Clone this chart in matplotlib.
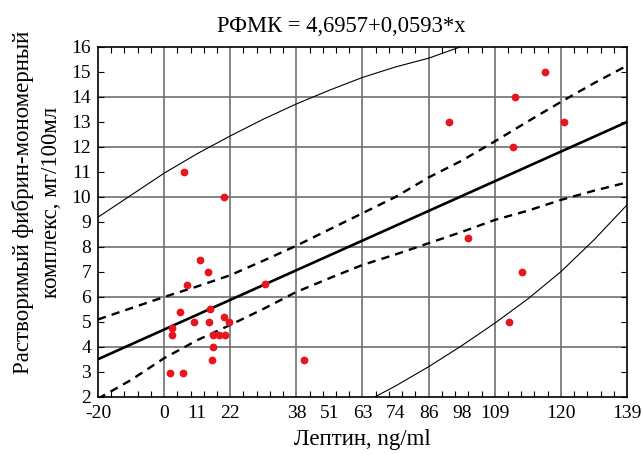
import matplotlib.pyplot as plt

plt.rcParams['font.family'] = ['Liberation Serif', 'DejaVu Serif']

# scatter points (x in axis units, y = РФМК)
pts_x = [6.0, 18.2, 10.9, 13.2, 6.9, 30.4, 4.8, 13.8, 2.5, 2.5, 9.1, 13.5,
         18.2, 19.7, 14.7, 16.5, 18.5, 14.7, 14.5, 1.9, 5.7, 42.2,
         115.3, 106.0, 86.2, 121.0, 105.6, 91.8, 108.1, 104.3]
pts_y = [11.0, 10.0, 7.47, 7.0, 6.48, 6.5, 5.39, 5.5, 4.77, 4.47, 5.0, 5.0,
         5.19, 5.0, 4.47, 4.47, 4.47, 4.0, 3.48, 2.97, 2.97, 3.48,
         15.0, 14.0, 13.0, 13.0, 12.0, 8.37, 7.0, 5.0]

# regression line РФМК = 4,6957+0,0593*x, end points
fit_x = [-20, 140]
fit_y = [3.51, 13.0]

# dashed confidence band
band_x = [-20, -10, 0, 10, 20, 30, 40, 50, 60, 70, 80, 90, 100, 110, 120, 130, 140]
band_hi = [5.1, 5.55, 6.0, 6.42, 6.87, 7.45, 8.05, 8.7, 9.35, 10.0, 10.78,
           11.45, 12.22, 13.02, 13.8, 14.55, 15.25]
band_lo = [1.93, 2.68, 3.55, 4.27, 4.88, 5.52, 6.2, 6.75, 7.28, 7.7, 8.15,
           8.6, 9.08, 9.45, 9.88, 10.25, 10.58]

# thin outer curves
out_hi_x = [-20, -10, 0, 10, 20, 30, 40, 50, 60, 70, 80, 90, 100]
out_hi_y = [9.19, 10.07, 10.95, 11.73, 12.44, 13.11, 13.72, 14.27, 14.78,
            15.2, 15.55, 16.02, 16.4]
out_lo_x = [60, 64.3, 70, 80, 90, 100, 110, 120, 130, 140]
out_lo_y = [1.7, 2.04, 2.44, 3.21, 4.05, 4.95, 5.92, 7.01, 8.28, 9.68]

# axis ticks
xtick_pos = [-20, 0, 10, 20, 40, 50, 60, 70, 80, 90, 100, 120, 140]
xtick_lab = ['-20', '0', '11', '22', '38', '51', '63', '74', '86', '98',
             '109', '120', '139']
xgrid = [0, 20, 40, 60, 80, 100, 120]
ygrid = [4, 6, 8, 10, 12, 14]

fig = plt.figure(figsize=(6.42, 4.54), dpi=100)
ax = fig.add_axes([0.1526, 0.1256, 0.824, 0.771])

for g in xgrid:
    ax.axvline(g, color='#707070', lw=1.2, zorder=1)
for g in ygrid:
    ax.axhline(g, color='#707070', lw=1.2, zorder=1)

ax.plot(out_hi_x, out_hi_y, color='black', lw=0.8, zorder=2)
ax.plot(out_lo_x, out_lo_y, color='black', lw=0.8, zorder=2)
ax.plot(band_x, band_hi, color='black', lw=1.7, ls=(0, (3.5, 2.6)), zorder=2)
ax.plot(band_x, band_lo, color='black', lw=1.7, ls=(0, (3.5, 2.6)), zorder=2)
ax.plot(fit_x, fit_y, color='black', lw=1.9, zorder=3)
ax.plot(pts_x, pts_y, 'o', color='#e8141e', ms=5.6, mec='none', zorder=4)

ax.set_xlim(-20, 140)
ax.set_ylim(2, 16)
ax.set_xticks(xtick_pos, xtick_lab)
ax.set_xticks(range(-16, 140, 4), minor=True)
ax.set_yticks(range(2, 17))
ax.tick_params(axis='x', which='major', length=0, pad=6, labelsize=14)
ax.tick_params(axis='x', which='minor', length=4, direction='in', top=True, width=0.8)
ax.tick_params(axis='y', which='major', length=4, direction='in', right=True,
               width=0.8, pad=5, labelsize=14)
for s in ax.spines.values():
    s.set_linewidth(1.2)

ax.set_xlabel('Лептин, ng/ml', fontsize=16.5, labelpad=5)
ax.set_ylabel('Растворимый фибрин-мономерный\nкомплекс, мг/100мл', fontsize=16.5,
              linespacing=1.45)
ax.yaxis.set_label_coords(-0.068, 0.557)
ax.set_title('РФМК = 4,6957+0,0593*x', fontsize=16.3, pad=11, x=0.46)

fig.savefig('out.png', dpi=100)
